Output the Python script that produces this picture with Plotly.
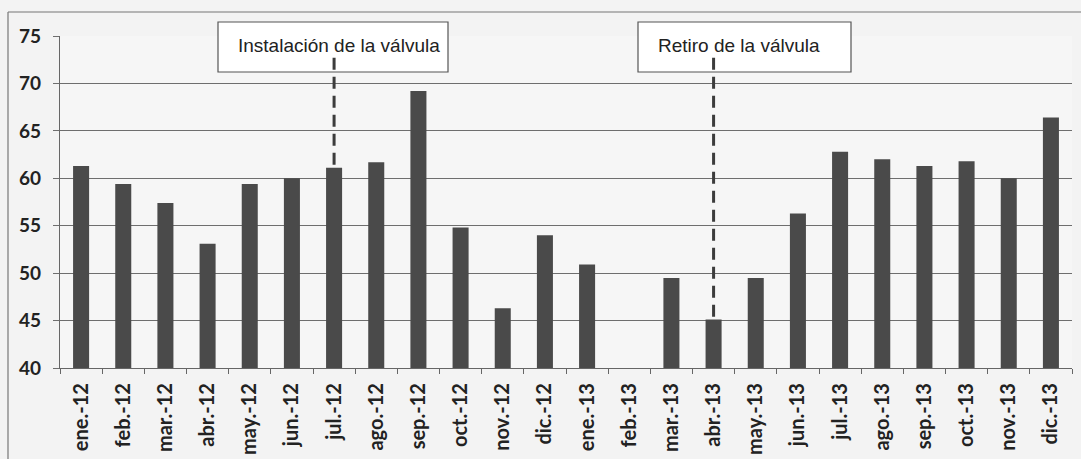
import plotly.graph_objects as go

categories = ["ene.-12", "feb.-12", "mar.-12", "abr.-12", "may.-12", "jun.-12",
              "jul.-12", "ago.-12", "sep.-12", "oct.-12", "nov.-12", "dic.-12",
              "ene.-13", "feb.-13", "mar.-13", "abr.-13", "may.-13", "jun.-13",
              "jul.-13", "ago.-13", "sep.-13", "oct.-13", "nov.-13", "dic.-13"]
values = [61.3, 59.4, 57.4, 53.1, 59.4, 60.0,
          61.1, 61.7, 69.2, 54.8, 46.3, 54.0,
          50.9, None, 49.5, 45.1, 49.5, 56.3,
          62.8, 62.0, 61.3, 61.8, 60.0, 66.4]
y_ticks = [40, 45, 50, 55, 60, 65, 70, 75]

events = [("jul.-12", "Instalación de la válvula"), ("abr.-13", "Retiro de la válvula")]
event_top = 72.7

W, H = 1081, 459
ML, MR, MT, MB = 60, 9, 36, 91
PW, PH = W - ML - MR, H - MT - MB

def px_x(p):
    return (p - ML) / PW

def px_y(p):
    return (H - MB - p) / PH

fig = go.Figure()
fig.add_trace(go.Bar(x=categories, y=values, width=0.38,
                     marker=dict(color="#4a4a4a", line=dict(width=0)),
                     showlegend=False))

for cat, label in events:
    v = values[categories.index(cat)]
    fig.add_trace(go.Scatter(x=[cat, cat], y=[event_top, v], mode="lines",
                             line=dict(color="#3c3c3c", width=3, dash="12px,7px"),
                             showlegend=False, hoverinfo="skip"))

boxes = [(218, 448, "Instalación de la válvula", 236),
         (638, 851, "Retiro de la válvula", 656)]
shapes = []
annotations = []
for x0, x1, txt, tx in boxes:
    shapes.append(dict(type="rect", xref="paper", yref="paper",
                       x0=px_x(x0), x1=px_x(x1), y0=px_y(72), y1=px_y(22),
                       fillcolor="white", line=dict(color="#555", width=1.2),
                       layer="between"))
    annotations.append(dict(xref="paper", yref="paper", x=px_x(tx), y=px_y(45),
                            xanchor="left", yanchor="middle", text=txt, showarrow=False,
                            font=dict(family="Liberation Sans, Arial", size=19,
                                      color="#222", weight="normal")))

# outer chart frame
shapes.append(dict(type="line", xref="paper", yref="paper",
                   x0=px_x(8), x1=px_x(1081), y0=px_y(12), y1=px_y(12),
                   line=dict(color="#777", width=1.2)))
shapes.append(dict(type="line", xref="paper", yref="paper",
                   x0=px_x(8), x1=px_x(8), y0=px_y(12), y1=px_y(459),
                   line=dict(color="#777", width=1.2)))

fig.update_layout(
    width=W, height=H,
    margin=dict(l=ML, r=MR, t=MT, b=MB, autoexpand=False),
    paper_bgcolor="#f3f3f3", plot_bgcolor="#f6f6f6",
    shapes=shapes, annotations=annotations,
    xaxis=dict(type="category", tickangle=-90, showgrid=False, automargin=False,
               showline=True, linecolor="#666", linewidth=1.2,
               ticks="outside", ticklen=5, tickcolor="#666",
               tickson="boundaries", ticklabelstandoff=6,
               tickfont=dict(family="Lato, Carlito, sans-serif", size=20,
                             color="#222", weight="bold"),
               range=[-0.5, 23.5]),
    yaxis=dict(range=[40, 75], tickvals=y_ticks, showgrid=True, automargin=False,
               gridcolor="#6e6e6e", gridwidth=1.2,
               showline=True, linecolor="#666", linewidth=1.2,
               ticks="outside", ticklen=6, tickcolor="#6e6e6e",
               ticklabelstandoff=8,
               tickfont=dict(family="Lato, Carlito, sans-serif", size=19,
                             color="#222", weight="bold"),
               zeroline=False),
)

fig.write_html("out.html", config={"displayModeBar": False},
               post_script="document.body.style.margin='0';document.body.style.background='#f3f3f3';")
